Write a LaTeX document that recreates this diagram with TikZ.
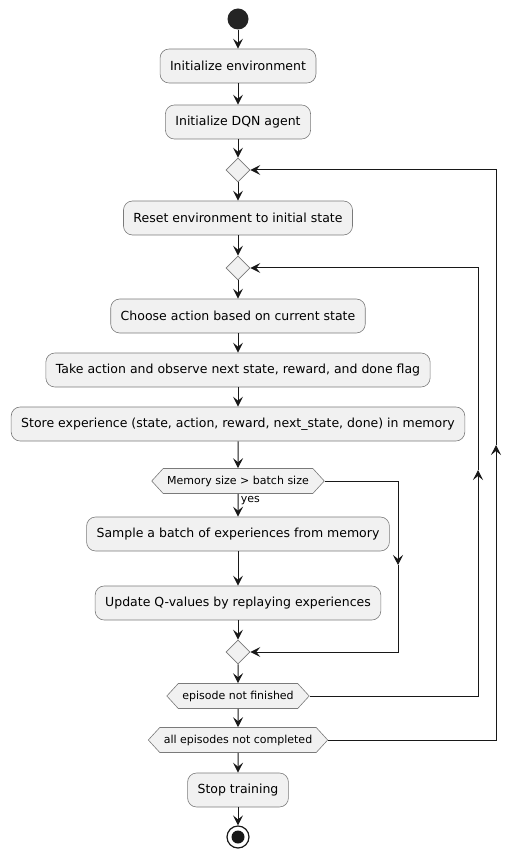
\documentclass[tikz,border=0pt]{standalone}
\usepackage{fontspec}
\setmainfont{DejaVu Sans}
\usetikzlibrary{positioning,shapes.geometric,shapes.symbols,arrows.meta}

\definecolor{boxfill}{HTML}{F1F1F1}
\definecolor{boxline}{HTML}{7A7A7A}
\definecolor{ink}{HTML}{181818}

\begin{document}
\begin{tikzpicture}[x=1pt, y=-1pt,
    action/.style={rectangle, draw=boxline, line width=0.6pt, fill=boxfill, rounded corners=9pt, minimum height=34pt, inner xsep=10pt, font=\fontsize{12.5}{14}\selectfont},
    branch/.style={diamond, draw=boxline, line width=0.6pt, fill=boxfill, minimum size=24pt, inner sep=0pt},
    test/.style={signal, signal to=west and east, signal pointer angle=95, draw=boxline, line width=0.6pt, fill=boxfill, minimum height=25pt, inner xsep=4pt, font=\fontsize{11}{13}\selectfont},
    arrow/.style={-{Stealth[length=10pt, width=10pt, inset=4pt]}, line width=1pt, draw=ink}]

    \useasboundingbox (0,0) rectangle (520,858);

    % Start
    \node[circle, fill=ink!95, minimum size=21pt, inner sep=0pt] (start) at (238,19) {};

    % Setup
    \node[action] (initenv) at (238,66) {Initialize environment};
    \node[action] (initagent) at (238,122) {Initialize DQN agent};

    % Episode loop
    \node[branch] (loopa) at (238,170) {};
    \node[action] (reset) at (238,218) {Reset environment to initial state};

    % Step loop
    \node[branch] (loopb) at (238,268) {};
    \node[action] (choose) at (238,316) {Choose action based on current state};
    \node[action] (take) at (238,370) {Take action and observe next state, reward, and done flag};
    \node[action] (store) at (238,424) {Store experience (state, action, reward, next\_state, done) in memory};

    % Replay
    \node[test] (memory) at (238,481) {Memory size > batch size};
    \node[action] (sample) at (238,534) {Sample a batch of experiences from memory};
    \node[action] (update) at (238,603) {Update Q-values by replaying experiences};
    \node[branch] (merge) at (238,652) {};

    % Loop tests
    \node[test] (episode) at (238,696) {episode not finished};
    \node[test] (alldone) at (238,740) {all episodes not completed};

    % End
    \node[action] (stop) at (238,790) {Stop training};
    \node[circle, draw=ink, line width=1.2pt, fill=white, minimum size=22pt, inner sep=0pt] (finish) at (238,837) {};
    \node[circle, fill=ink, minimum size=13pt, inner sep=0pt] at (finish) {};

    % Turning points
    \coordinate (skip) at (398,565);
    \coordinate (backb) at (478,470);
    \coordinate (backa) at (496,445);

    % Connect steps
    \draw[arrow] (start) -- (initenv);
    \draw[arrow] (initenv) -- (initagent);
    \draw[arrow] (initagent) -- (loopa);
    \draw[arrow] (loopa) -- (reset);
    \draw[arrow] (reset) -- (loopb);
    \draw[arrow] (loopb) -- (choose);
    \draw[arrow] (choose) -- (take);
    \draw[arrow] (take) -- (store);
    \draw[arrow] (store) -- (memory);
    \draw[arrow] (memory) -- node[right, xshift=-1pt, yshift=5pt, font=\fontsize{11}{13}\selectfont] {yes} (sample);
    \draw[arrow] (sample) -- (update);
    \draw[arrow] (update) -- (merge);
    \draw[arrow] (merge) -- (episode);
    \draw[arrow] (episode) -- (alldone);
    \draw[arrow] (alldone) -- (stop);
    \draw[arrow] (stop) -- (finish);

    % Back edges
    \draw[arrow] (memory.east) -| (skip);
    \draw[arrow] (skip) |- (merge.east);
    \draw[arrow] (episode.east) -| (backb);
    \draw[arrow] (backb) |- (loopb.east);
    \draw[arrow] (alldone.east) -| (backa);
    \draw[arrow] (backa) |- (loopa.east);
\end{tikzpicture}
\end{document}
